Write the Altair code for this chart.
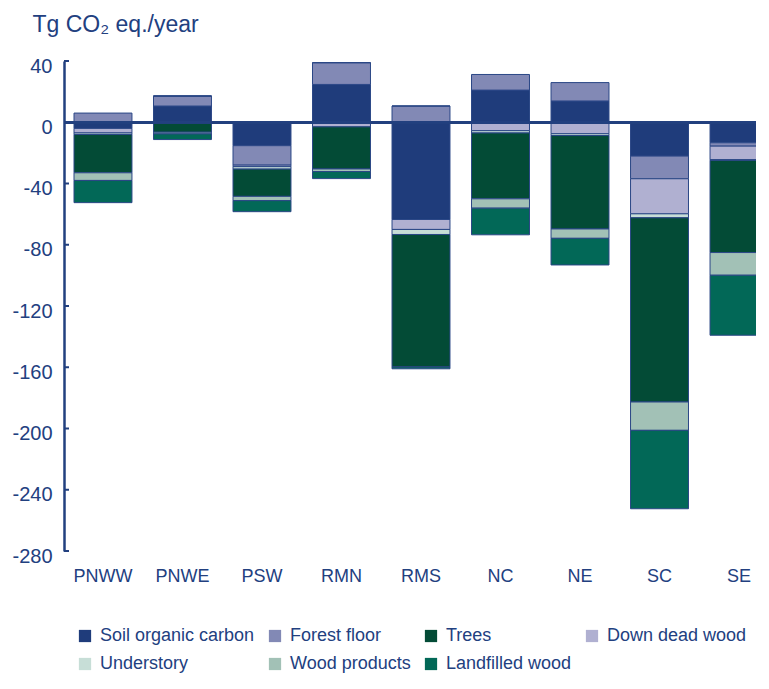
import altair as alt
import pandas as pd

regions = ["PNWW", "PNWE", "PSW", "RMN", "RMS", "NC", "NE", "SC", "SE"]
components = ["Soil organic carbon", "Forest floor", "Trees", "Down dead wood",
              "Understory", "Wood products", "Landfilled wood"]
stack_order = ["Soil organic carbon", "Forest floor", "Down dead wood", "Understory",
               "Trees", "Wood products", "Landfilled wood"]
colors = ["#1f3c7b", "#8289b5", "#034b36", "#b0b0d1", "#c7ded7", "#a2c1b6", "#026857"]

soil = [-4.0, 10.6, -15.3, 24.7, -63.5, 21.0, 13.9, -22.1, -13.4]
forest_floor = [6.0, 6.5, -12.7, 14.2, 10.6, 10.2, 12.0, -14.8, -2.2]
down_dead_wood = [-3.0, 0.0, -1.0, -3.0, -6.5, -5.5, -7.5, -22.9, -8.8]
understory = [-1.0, 0.0, -1.6, 0.0, -3.3, -1.5, -1.2, -2.6, -0.5]
trees = [-25.0, -6.5, -17.8, -27.5, -86.5, -43.0, -61.0, -120.3, -60.2]
wood_products = [-5.0, -1.1, -2.8, -1.7, 0.0, -6.1, -6.1, -18.5, -14.8]
landfilled = [-14.5, -3.7, -7.2, -4.6, -1.2, -17.4, -17.4, -51.2, -39.2]

y_ticks = [40, 0, -40, -80, -120, -160, -200, -240, -280]

series = {
    "Soil organic carbon": soil,
    "Forest floor": forest_floor,
    "Down dead wood": down_dead_wood,
    "Understory": understory,
    "Trees": trees,
    "Wood products": wood_products,
    "Landfilled wood": landfilled,
}

rows = []
for comp, vals in series.items():
    for r, v in zip(regions, vals):
        rows.append({"region": r, "component": comp, "value": v,
                     "ord": stack_order.index(comp)})
df = pd.DataFrame(rows)

NAVY = "#22407f"
FONT = "Liberation Sans"

bars = alt.Chart(df).mark_bar(stroke="#2b4786", strokeWidth=1, clip=True).encode(
    x=alt.X("region:N", sort=regions,
            scale=alt.Scale(range=[10, 704], paddingInner=0.271, paddingOuter=0),
            axis=alt.Axis(title=None, domain=False, ticks=False, tickSize=0,
                          labelAngle=0, labelFontSize=18, labelColor=NAVY,
                          labelFont=FONT, labelPadding=16)),
    y=alt.Y("value:Q", stack="zero",
            scale=alt.Scale(domain=[-280, 40], nice=False, zero=False),
            axis=alt.Axis(values=y_ticks, grid=False, ticks=False, tickSize=0,
                          domainColor=NAVY, domainWidth=2.5,
                          labelFontSize=20, labelColor=NAVY, labelFont=FONT,
                          labelPadding=12, labelOffset=5,
                          labelExpr="'' + datum.value",
                          title="Tg CO₂ eq./year", titleAngle=0, titleAlign="left",
                          titleBaseline="alphabetic", titleX=-32, titleY=-30,
                          titleFontSize=23, titleFontWeight="normal",
                          titleColor=NAVY, titleFont=FONT)),
    color=alt.Color("component:N",
                    scale=alt.Scale(domain=components, range=colors),
                    legend=alt.Legend(title=None, orient="none", legendX=12, legendY=566,
                                      direction="horizontal",
                                      columns=4, columnPadding=11,
                                      rowPadding=10, symbolType="square", symbolSize=150,
                                      symbolStrokeWidth=0, labelFontSize=18,
                                      labelColor=NAVY, labelFont=FONT, labelOffset=6)),
    order=alt.Order("ord:Q", sort="ascending"),
)

tick_df = pd.DataFrame({"t": y_ticks})
ticks = alt.Chart(tick_df).mark_rule(color=NAVY, strokeWidth=2).encode(
    y="t:Q", x=alt.value(0), x2=alt.value(5)
)

zero = alt.Chart(tick_df).mark_rule(color=NAVY, strokeWidth=2.5).encode(
    y=alt.datum(0)
)

chart = alt.layer(bars, zero, ticks).properties(
    width=692, height=490, background="white",
    padding={"left": 3, "top": 5, "right": 0, "bottom": 0},
).configure_view(stroke=None)

chart.save("out.html", embed_options={"renderer": "svg", "actions": False})
